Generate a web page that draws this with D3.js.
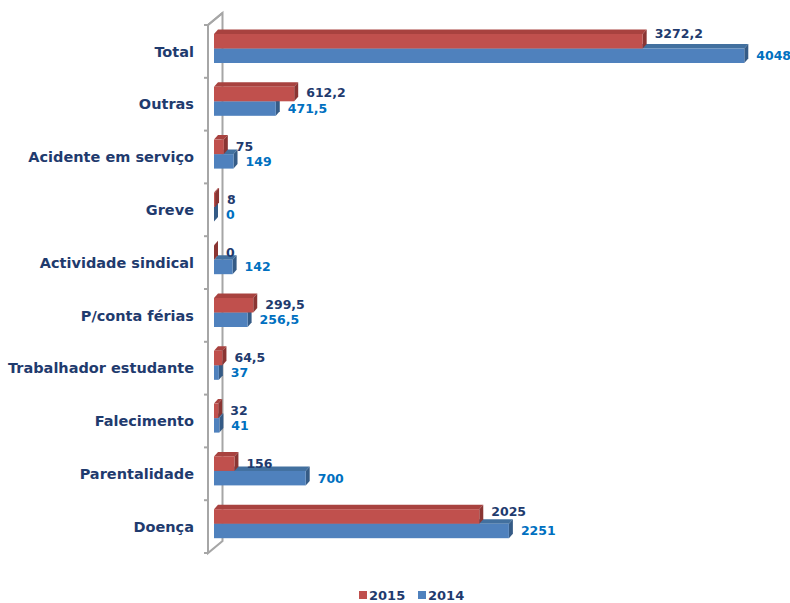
<!DOCTYPE html>
<html>
<head>
<meta charset="utf-8">
<script src="https://cdn.jsdelivr.net/npm/d3@7"></script>
<style>
  html, body { margin: 0; padding: 0; background: #ffffff; }
  svg { display: block; }
</style>
</head>
<body>
<svg id="chart" width="790" height="603"></svg>
<script>
// Ausências por motivo (dias), 2015 vs 2014
const categories = ["Total", "Outras", "Acidente em serviço", "Greve", "Actividade sindical",
  "P/conta férias", "Trabalhador estudante", "Falecimento", "Parentalidade", "Doença"];
const values2015 = [3272.2, 612.2, 75, 8, 0, 299.5, 64.5, 32, 156, 2025];
const values2014 = [4048, 471.5, 149, 0, 142, 256.5, 37, 41, 700, 2251];
const seriesNames = ["2015", "2014"];

const svg = d3.select("#chart");
const fontFamily = "'DejaVu Sans', sans-serif";
const navy = "#1F3B6E";
const blueText = "#0070C0";

const colors = {
  "2015": { front: "#C0504D", top: "#A8423F", side: "#8A3533" },
  "2014": { front: "#4F81BD", top: "#42709F", side: "#355B86" }
};

const x = d3.scaleLinear().domain([0, 4500]).range([214, 803.5]);
const y = d3.scaleBand().domain(categories).range([25, 553]).paddingInner(0);

const ptFormat = d3.formatLocale({ decimal: ",", thousands: ".", grouping: [3], currency: ["", " €"] }).format(".1~f");

// 3D depth of bars and of the category wall
const bdx = 4, bdy = -4.5;
const wdx = 14.5, wdy = -12;
const wallX = 208;

// Category axis wall (front and back edges)
const wall = svg.append("g").attr("stroke", "#A6A6A6").attr("stroke-width", 2).attr("fill", "none");
const [y0, y1] = y.range();
wall.append("path").attr("d", `M${wallX},${y0}V${y1}L${wallX + wdx},${y1 + wdy}V${y0 + wdy}Z`);
wall.append("path").attr("d", `M${wallX},${y0}L${wallX + wdx},${y0 + wdy}`);
// tick marks on the front edge
const tickVals = d3.range(categories.length + 1).map(i => y0 + i * y.step());
wall.selectAll("line.tick").data(tickVals).join("line")
  .attr("class", "tick")
  .attr("x1", wallX - 4).attr("x2", wallX)
  .attr("y1", d => d).attr("y2", d => d);

// Category labels
svg.append("g").selectAll("text").data(categories).join("text")
  .attr("x", 194)
  .attr("y", d => y(d) + y.bandwidth() / 2)
  .attr("dy", "0.36em")
  .attr("text-anchor", "end")
  .attr("font-family", fontFamily)
  .attr("font-weight", "bold")
  .attr("font-size", 14.5)
  .attr("fill", navy)
  .text(d => d);

const barH = 14.5;
const rows = categories.map((c, i) => ({
  cat: c,
  bars: [
    { series: "2014", value: values2014[i], y: y(c) + 9 + barH },
    { series: "2015", value: values2015[i], y: y(c) + 9 }
  ]
}));

function drawBar(g, d) {
  const x0 = x(0), x1 = x(d.value);
  const col = colors[d.series];
  // top face
  g.append("path")
    .attr("d", `M${x0},${d.y}L${x0 + bdx},${d.y + bdy}L${x1 + bdx},${d.y + bdy}L${x1},${d.y}Z`)
    .attr("fill", col.top);
  // side face
  g.append("path")
    .attr("d", `M${x1},${d.y}L${x1 + bdx},${d.y + bdy}L${x1 + bdx},${d.y + barH + bdy}L${x1},${d.y + barH}Z`)
    .attr("fill", col.side);
  // front face
  g.append("rect")
    .attr("x", x0).attr("y", d.y)
    .attr("width", Math.max(0, x1 - x0)).attr("height", barH)
    .attr("fill", col.front);
}

const barsG = svg.append("g");
rows.forEach(r => {
  const g = barsG.append("g");
  r.bars.forEach(b => drawBar(g, b));
});

// Value labels
const labelsG = svg.append("g")
  .attr("font-family", fontFamily)
  .attr("font-weight", "bold")
  .attr("font-size", 12.5);
rows.forEach(r => {
  r.bars.forEach(b => {
    const len = x(b.value) - x(0);
    const shift = b.series === "2015" ? -len * 0.018 : 0;
    labelsG.append("text")
      .attr("x", x(b.value) + 12)
      .attr("y", b.y + barH / 2 + shift)
      .attr("dy", "0.36em")
      .attr("fill", b.series === "2015" ? navy : blueText)
      .text(ptFormat(b.value));
  });
});

// Legend
const legend = svg.append("g")
  .attr("font-family", fontFamily)
  .attr("font-weight", "bold")
  .attr("font-size", 13);
const legendX = [359, 418];
seriesNames.forEach((s, i) => {
  legend.append("rect")
    .attr("x", legendX[i]).attr("y", 591)
    .attr("width", 8).attr("height", 8)
    .attr("fill", colors[s].front);
  legend.append("text")
    .attr("x", legendX[i] + 10).attr("y", 595)
    .attr("dy", "0.36em")
    .attr("fill", navy)
    .text(s);
});
</script>
</body>
</html>
